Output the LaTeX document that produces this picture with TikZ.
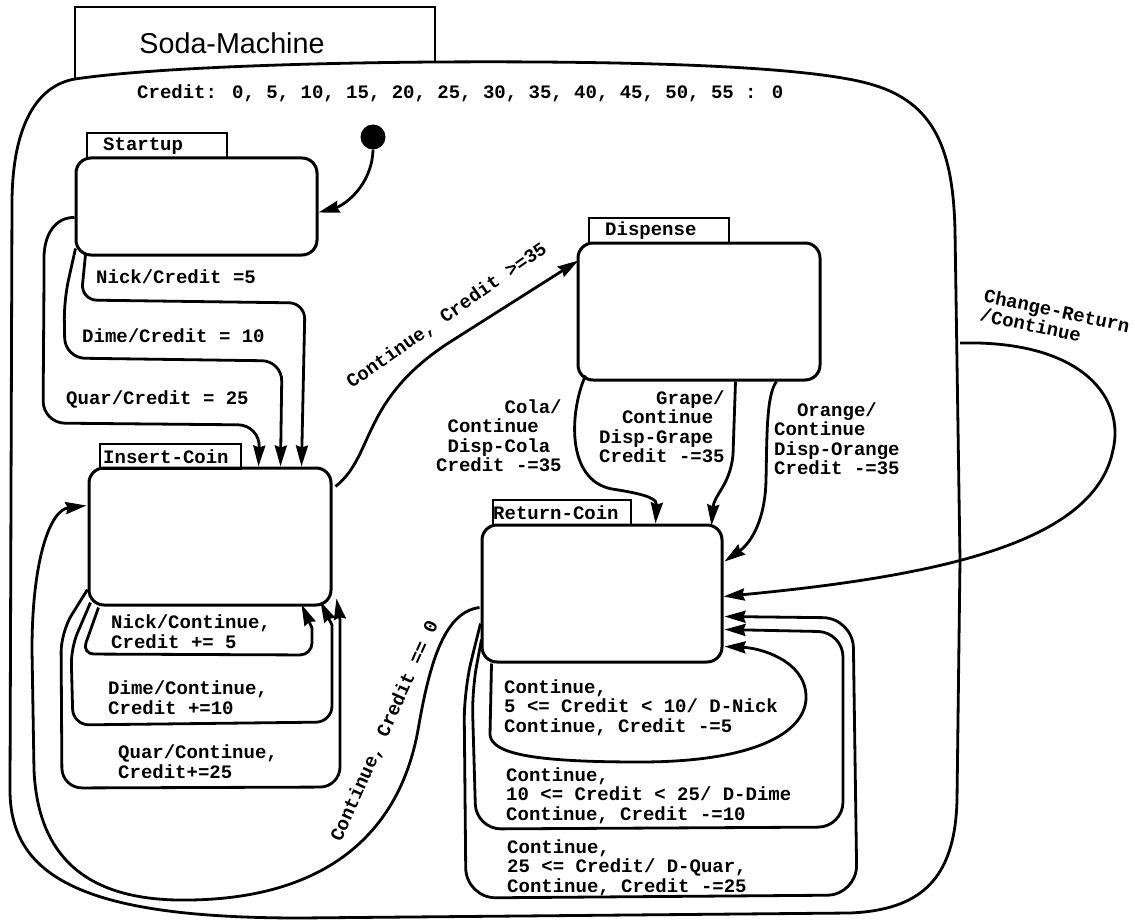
\documentclass[tikz,border=0pt]{standalone}
\usepackage{fontspec}
\setmainfont{Liberation Sans}
\newfontfamily\courfont{Liberation Mono}
\usetikzlibrary{arrows.meta,calc}
\begin{document}
\begin{tikzpicture}[x=1pt,y=-1pt,
  every node/.style={inner sep=0pt},
  lbl/.style={font=\courfont\bfseries\fontsize{19}{19.5}\selectfont, align=left, anchor=west},
  state/.style={draw, line width=3pt, rounded corners=15pt},
  tabbox/.style={draw, line width=2.4pt, inner xsep=0pt, minimum height=25pt, align=left, anchor=north west,
    font=\courfont\bfseries\fontsize{19}{19.5}\selectfont},
  conn/.style={line width=2.8pt, -{Stealth[length=21pt,width=12pt,inset=2pt]}},
  plain/.style={line width=2.8pt}]
\useasboundingbox (0,0) rectangle (1135,920);

% outer superstate
\draw[plain] (75,79) -- (75,7) -- (435,7) -- (435,62);
\draw[plain] (75,79) .. controls (150,68) and (300,63) .. (435,62)
  .. controls (600,61) and (800,64) .. (870,84)
  .. controls (935,102) and (953,150) .. (955,230) -- (960,560) -- (957,800)
  .. controls (955,880) and (920,910) .. (850,913) -- (300,918)
  .. controls (90,918) and (10,880) .. (10,790) -- (12,200)
  .. controls (13,120) and (40,85) .. (75,79) -- cycle;
\node[font=\fontsize{28.7}{30}\selectfont] (title) at (232,43) {Soda-Machine};
\node[lbl] (credit) at (137,93) {Credit: 0, 5, 10, 15, 20, 25, 30, 35, 40, 45, 50, 55 : 0};

% tabs
\node[tabbox, text width=140pt] (startuptab) at (86,132) {\hspace*{16pt}Startup};
\node[tabbox, text width=141pt] (ictab) at (99,443) {\hspace*{3pt}Insert-Coin};
\node[tabbox, text width=140pt] (disptab) at (588,217) {\hspace*{16pt}Dispense};
\node[tabbox, text width=138pt] (rctab) at (492,499) {Return-Coin};

% states
\node[state, minimum width=241pt, minimum height=97pt] (startup) at (196.5,206.5) {};
\node[state, minimum width=242pt, minimum height=137pt] (ic) at (210,536.5) {};
\node[state, minimum width=242pt, minimum height=137pt] (disp) at (699,311.5) {};
\node[state, minimum width=240pt, minimum height=137pt] (rc) at (602,593.5) {};

% initial state
\node[circle, fill, minimum size=25pt] (init) at (373,137) {};
\draw[conn] (init.south) .. controls (372,185) and (345,205) .. ($(startup.east)+(0,6)$);

% Startup -> Insert-Coin
\draw[conn, rounded corners=16pt] ($(startup.south west)+(11,-2)$) -- (81,300) -- (305,303) -- ($(ic.north west)+(214,0)$);
\draw[conn, rounded corners=20pt] ($(startup.south west)+(1,-8)$) -- (64,300) -- (65,358) -- (282,361) -- ($(ic.north west)+(193,0)$);
\draw[conn, rounded corners=22pt] ($(startup.west)+(0,11)$) .. controls (55,217) and (44,235) .. (44,280) -- (43,423) -- (260,425) -- ($(ic.north west)+(171,0)$);
\node[lbl] (l1) at (96,277) {Nick/Credit =5};
\node[lbl] (l2) at (82,336) {Dime/Credit = 10};
\node[lbl] (l3) at (66,399) {Quar/Credit = 25};

% Insert-Coin self loops
\draw[conn, rounded corners=12pt] ($(ic.south west)+(11,1)$) -- (82,654) -- (312,655) [sharp corners] -- (312,628) -- ($(ic.south west)+(214,-2)$);
\draw[conn, rounded corners=16pt] ($(ic.south west)+(3,-4)$) -- (71,648) -- (73,725) -- (332,722) [sharp corners] -- (332,625) -- ($(ic.south west)+(233,-5)$);
\draw[conn, rounded corners=20pt] ($(ic.south west)+(0,-17)$) -- (61,632) -- (62,788) -- (340,787) [sharp corners] -- (340,620) -- ($(ic.south east)+(4,-8)$);
\node[lbl] (l4) at (111,631.5) {Nick/Continue,\\Credit += 5};
\node[lbl] (l5) at (108,697.5) {Dime/Continue,\\Credit +=10};
\node[lbl] (l6) at (118,761.5) {Quar/Continue,\\Credit+=25};

% Insert-Coin -> Dispense
\draw[conn] ($(ic.east)+(3,-50)$) .. controls (375,455) and (360,400) .. (450,342) -- ($(disp.north west)+(2,19)$);
\node[lbl, anchor=center, rotate=35] (l7) at (447,316) {Continue, Credit >=35};

% Dispense -> Return-Coin
\draw[conn] ($(disp.south west)+(9,-6)$) .. controls (570,410) and (565,480) .. (612,489) .. controls (652,495) and (657,500) .. ($(rc.north west)+(175,0)$);
\draw[conn] ($(disp.south west)+(159,0)$) -- (733,455) .. controls (730,485) and (714,495) .. ($(rc.north west)+(231,2)$);
\draw[conn] ($(disp.south west)+(200,0)$) .. controls (766,395) and (767,440) .. (766,480) .. controls (765,525) and (748,545) .. ($(rc.north east)+(1,38)$);
\node[lbl] (l8) at (436,435.5) {\phantom{xxxxxx}Cola/\\\phantom{x}Continue\\\phantom{x}Disp-Cola\\Credit -=35};
\node[lbl] (l9) at (599,426.5) {\phantom{xxxxx}Grape/\\\phantom{xx}Continue\\Disp-Grape\\Credit -=35};
\node[lbl] (l10) at (774,438.5) {\phantom{xx}Orange/\\Continue\\Disp-Orange\\Credit -=35};

% Change-Return
\coordinate (cr) at (960,343);
\draw[conn] (cr) .. controls (1085,340) and (1125,400) .. (1113,450) .. controls (1095,540) and (950,575) .. ($(rc.east)+(0,3)$);
\node[lbl, anchor=center, rotate=-12] (l11) at (1055,320) {Change-Return\\/Continue};

% Return-Coin self loops
\draw[conn] ($(rc.south west)+(11,0)$) -- (490,735) .. controls (492,755) and (540,762) .. (640,762) .. controls (760,762) and (808,730) .. (806,695) .. controls (804,660) and (760,648) .. ($(rc.east)+(1,53)$);
\draw[conn, rounded corners=25pt] ($(rc.south west)+(1,-24)$) -- (472,690) -- (476,829) -- (843,827) -- (843,632) -- ($(rc.east)+(1,36)$);
\draw[conn, rounded corners=30pt] ($(rc.south west)+(0,-40)$) -- (464,690) -- (466,898) -- (857,895) -- (853,618) -- ($(rc.east)+(1,23)$);
\node[lbl] (l12) at (504,707.5) {Continue,\\5 <= Credit < 10/ D-Nick\\Continue, Credit -=5};
\node[lbl] (l13) at (506,795.5) {Continue,\\10 <= Credit < 25/ D-Dime\\Continue, Credit -=10};
\node[lbl] (l14) at (507,867.5) {Continue,\\25 <= Credit/ D-Quar,\\Continue, Credit -=25};

% Return-Coin -> Insert-Coin
\draw[conn] ($(rc.west)+(-1,14)$) .. controls (445,612) and (430,660) .. (418,730) .. controls (400,830) and (330,898) .. (190,900) .. controls (90,902) and (38,860) .. (34,770) -- (32,650) .. controls (32,560) and (50,510) .. ($(ic.west)+(-1,-31)$);
\node[lbl, anchor=center, rotate=66] (l15) at (385,731) {Continue, Credit == 0};
\end{tikzpicture}
\end{document}
